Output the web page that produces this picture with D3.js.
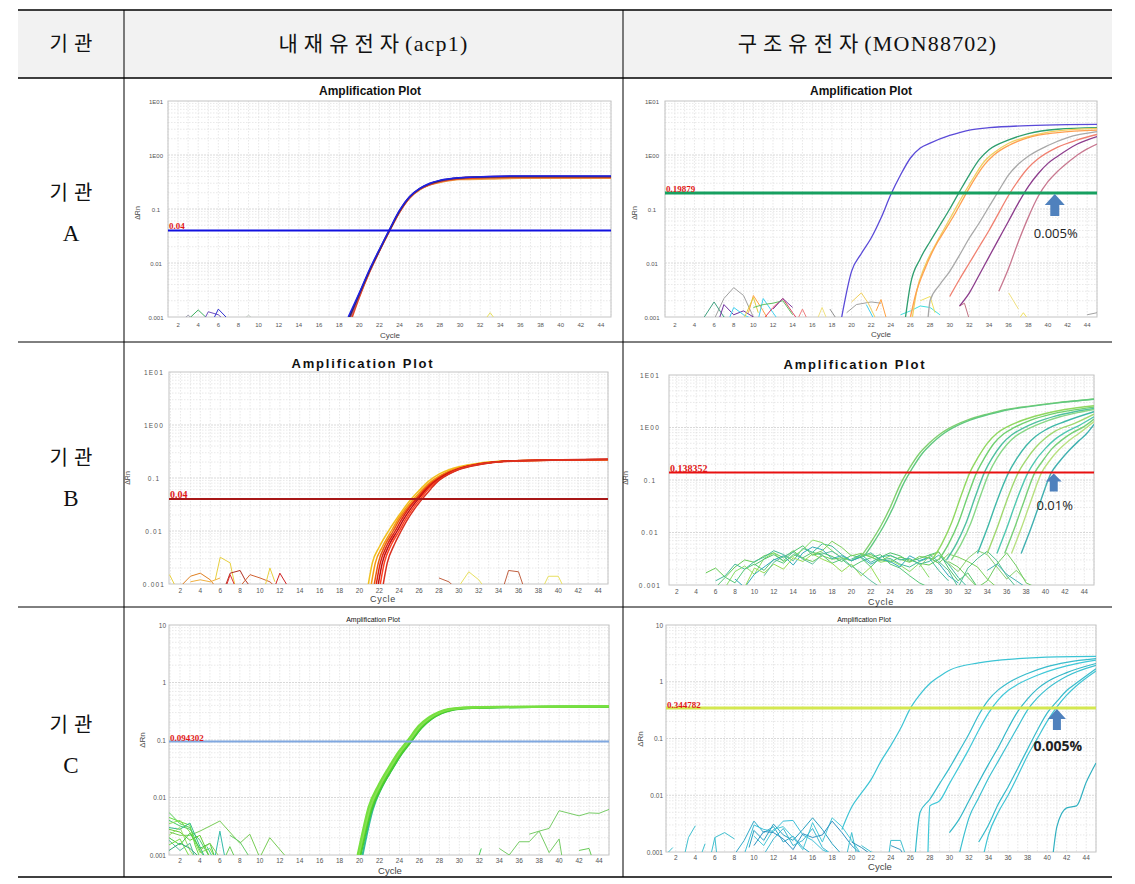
<!DOCTYPE html>
<html><head><meta charset="utf-8">
<script src="https://cdn.jsdelivr.net/npm/d3@7"></script>
<style>body{margin:0;background:#fff}svg{display:block}</style>
</head><body>
<svg id="chart" width="1135" height="884"></svg>
<script>
// ---------------- DATA ----------------
const headerLabels = ["기관", "내재유전자(acp1)", "구조유전자(MON88702)"];
const agencyLabels = ["A", "B", "C"];
const xTickValues = [2,4,6,8,10,12,14,16,18,20,22,24,26,28,30,32,34,36,38,40,42,44];
const yTickValues = [10, 1, 0.1, 0.01, 0.001];
const yTickLabelsAB = ["1E01", "1E00", "0.1", "0.01", "0.001"];
const yTickLabelsC = ["10", "1", "0.1", "0.01", "0.001"];
const thresholds = [0.04, 0.19879, 0.04, 0.138352, 0.094302, 0.344782];
const thresholdLabels = ["0.04", "0.19879", "0.04", "0.138352", "0.094302", "0.344782"];
const lodLabels = ["0.005%", "0.01%", "0.005%"];
const lodCycles = [40.7, 40.85, 41.0];

// Agency A, acp1
const A_acp1_curves = [
  [[19.2,0.001],[20,0.0025],[21,0.0069],[22,0.017],[23,0.04],[24,0.089],[25,0.162],[26,0.23],[27,0.285],[28,0.32],[30,0.36],[33,0.375],[36,0.38],[45,0.38]],
  [[19.2,0.001],[20,0.0024],[21,0.0068],[22,0.017],[23,0.04],[24,0.088],[25,0.16],[26,0.225],[27,0.28],[28,0.31],[30,0.35],[33,0.36],[36,0.37],[45,0.37]],
  [[19.3,0.001],[20,0.0023],[21,0.0066],[22,0.0165],[23,0.039],[24,0.087],[25,0.16],[26,0.23],[27,0.28],[28,0.32],[30,0.36],[33,0.38],[36,0.385],[45,0.385]],
  [[19.1,0.001],[20,0.0026],[21,0.007],[22,0.017],[23,0.04],[24,0.09],[25,0.165],[26,0.235],[27,0.29],[28,0.33],[30,0.38],[33,0.4],[36,0.405],[45,0.4]],
  [[19.0,0.001],[20,0.0027],[21,0.0072],[22,0.0175],[23,0.041],[24,0.092],[25,0.168],[26,0.238],[27,0.295],[28,0.335],[30,0.375],[33,0.395],[36,0.4],[45,0.4]],
  [[18.9,0.001],[20,0.0028],[21,0.0075],[22,0.018],[23,0.042],[24,0.095],[25,0.17],[26,0.24],[27,0.3],[28,0.34],[30,0.38],[33,0.4],[36,0.41],[45,0.41]]
];
const A_acp1_colors = ["#b08040", "#f0a040", "#e04828", "#7a2aa0", "#303030", "#2020e8"];
const A_acp1_noise = [
  [[2.5,0.0009],[3,0.00108],[3.5,0.0009]],
  [[3,0.0009],[4,0.00135],[5,0.0009]],
  [[4.6,0.0009],[5,0.00125],[6,0.0011],[6.5,0.0009]],
  [[5.5,0.0009],[6,0.0014],[7,0.0009]],
  [[8.5,0.0009],[9,0.00108],[9.5,0.0009]],
  [[32.5,0.0009],[33,0.0012],[33.5,0.0009]]
];
const A_acp1_noiseColors = ["#a0a0b0", "#40b060", "#7050c0", "#3030d0", "#c0c8c0", "#e8e060"];

// Agency A, MON88702
const A_mon_curves = [
  [[19,0.001],[20,0.007],[21,0.015],[22,0.029],[23,0.068],[24,0.185],[25,0.43],[26,0.88],[27,1.35],[28,1.66],[30,2.3],[32,2.9],[34,3.2],[38,3.5],[42,3.65],[45,3.7]],
  [[25.5,0.001],[26,0.004],[27,0.012],[28,0.025],[29,0.05],[30,0.1],[31,0.21],[32,0.43],[33,0.82],[34,1.25],[36,1.9],[38,2.5],[41,3.0],[45,3.2]],
  [[26.2,0.001],[26.6,0.0028],[27.5,0.009],[28.5,0.021],[29.5,0.045],[30.5,0.095],[31.5,0.2],[32.5,0.4],[33.5,0.75],[34.5,1.1],[36,1.65],[38,2.2],[41,2.8],[45,3.1]],
  [[26,0.001],[26.5,0.0025],[27.5,0.008],[28.5,0.02],[29.5,0.04],[30.5,0.08],[31.5,0.17],[32.5,0.35],[33.5,0.65],[34.5,1.0],[36,1.5],[38,2.1],[41,2.6],[45,2.9]],
  [[27.8,0.001],[28,0.002],[29,0.004],[30,0.007],[31,0.014],[32,0.029],[33,0.055],[34,0.11],[35,0.22],[36,0.43],[37,0.68],[38,0.95],[40,1.5],[42,2.1],[45,2.7]],
  [[30,0.0024],[31,0.005],[32,0.01],[33,0.02],[34,0.04],[35,0.085],[36,0.18],[37,0.34],[38,0.58],[39,0.85],[41,1.4],[43,1.9],[45,2.4]],
  [[31,0.0016],[32,0.0028],[33,0.006],[34,0.013],[35,0.028],[36,0.06],[37,0.13],[38,0.26],[39,0.45],[40,0.7],[41,0.95],[43,1.6],[45,2.2]],
  [[35,0.003],[36,0.008],[37,0.025],[38,0.07],[39,0.17],[40,0.32],[41,0.5],[42,0.72],[43,1.0],[44,1.3],[45,1.6]]
];
const A_mon_colors = ["#5a4ad8", "#2e9e6e", "#f0d060", "#ffa050", "#a8a8a8", "#f08070", "#8c3c8c", "#c87890"];
const A_mon_noise = [
  [[6,0.0009],[7,0.0022],[8,0.0035],[9,0.0025],[10,0.001],[10.5,0.0009]],
  [[5,0.001],[6,0.0019],[7,0.001],[7.5,0.0009]],
  [[6.5,0.0009],[7,0.0017],[8,0.0011],[9,0.0013],[10,0.001]],
  [[7.5,0.0009],[8,0.0015],[9,0.0011],[10,0.0009]],
  [[9.5,0.0012],[10,0.0025],[11,0.0013],[11.5,0.0009]],
  [[9,0.0009],[10,0.0023],[10.5,0.0012]],
  [[10.5,0.0009],[11,0.0022],[12,0.0012],[12.5,0.0009]],
  [[11,0.0009],[12,0.0015],[13,0.0022],[14,0.0012],[14.5,0.0009]],
  [[10,0.0015],[11,0.0017],[12,0.0018],[13,0.002],[14,0.0011]],
  [[12,0.0014],[13,0.0022],[14,0.0015]],
  [[14.5,0.0009],[15,0.0014],[15.5,0.0009]],
  [[16.5,0.0009],[17,0.0015],[17.5,0.0009]],
  [[17.8,0.0014],[18.5,0.0009]],
  [[19.5,0.0012],[20.5,0.0017],[22,0.0019],[23,0.0018]],
  [[20,0.0019],[21,0.0028],[21.7,0.0018],[22.5,0.0009]],
  [[21.5,0.0017],[22.3,0.0009]],
  [[22.5,0.0013],[23,0.0021],[23.5,0.001]],
  [[25,0.0011],[26,0.0013],[27,0.0016],[28,0.0015],[29,0.0011]],
  [[27,0.002],[28,0.0024],[28.5,0.0012]],
  [[36,0.0028],[37,0.0014]],
  [[37,0.0009],[37.5,0.0012],[38,0.0009]],
  [[31,0.0016],[31.5,0.0018],[32,0.0009]],
  [[44,0.0011],[45,0.0012]]
];
const A_mon_noiseColors = ["#a0a0a0","#40a080","#7030a0","#40d0f0","#ffa040","#e0d040","#40d0f0","#e04060","#60c060","#8040a0","#f08080","#f0e080","#909090","#a0a0a0","#f0d060","#40d0f0","#ffa040","#40e0e0","#f0e060","#f0e080","#f0e060","#c07080","#a0a0a0"];

// Agency B, acp1
const B_acp1_curves = [
  [[20.9,0.001],[21.3,0.0025],[22,0.005],[23,0.0105],[24,0.02],[25,0.036],[26,0.058],[27,0.088],[28,0.118],[29,0.143],[30,0.163],[32,0.19],[34,0.206],[37,0.215],[45,0.222]],
  [[21.2,0.001],[21.6,0.0025],[22.3,0.005],[23.2,0.01],[24,0.018],[25,0.032],[26,0.052],[27,0.08],[28,0.108],[29,0.135],[30,0.157],[32,0.187],[34,0.205],[37,0.215],[45,0.222]],
  [[21.5,0.001],[21.9,0.0025],[22.6,0.0055],[23.4,0.01],[24,0.016],[25,0.029],[26,0.048],[27,0.075],[28,0.103],[29,0.13],[30,0.152],[32,0.184],[34,0.203],[37,0.214],[45,0.223]],
  [[21.7,0.001],[22.1,0.0025],[22.8,0.0055],[23.6,0.01],[24.2,0.016],[25,0.027],[26,0.045],[27,0.071],[28,0.099],[29,0.126],[30,0.15],[32,0.183],[34,0.203],[37,0.215],[45,0.224]],
  [[21.9,0.001],[22.3,0.0025],[23,0.0055],[23.8,0.01],[24.4,0.016],[25.2,0.027],[26,0.042],[27,0.067],[28,0.095],[29,0.123],[30,0.148],[32,0.182],[34,0.202],[37,0.214],[45,0.225]],
  [[22.1,0.001],[22.5,0.0025],[23.2,0.0055],[24,0.01],[24.6,0.016],[25.4,0.027],[26.2,0.042],[27,0.064],[28,0.092],[29,0.12],[30,0.146],[32,0.18],[34,0.2],[37,0.213],[45,0.224]],
  [[22.4,0.001],[22.8,0.0025],[23.5,0.0055],[24.2,0.01],[24.8,0.016],[25.6,0.027],[26.4,0.042],[27.2,0.063],[28,0.09],[29,0.118],[30,0.144],[32,0.178],[34,0.2],[37,0.213],[45,0.224]]
];
const B_acp1_colors = ["#f0c020", "#f89a10", "#e85c10", "#e02010", "#c01010", "#ff4020", "#d83020"];
const B_acp1_noise = [
  [[0.9,0.0015],[1.5,0.0009]],
  [[5.5,0.0012],[6,0.0032],[7,0.0025],[7.5,0.0009]],
  [[2,0.0009],[3,0.0014],[4,0.0016],[5,0.0012],[5.5,0.0009]],
  [[6.5,0.0009],[7,0.0016],[8,0.0018],[8.5,0.0012],[9,0.0009]],
  [[6.6,0.0009],[7,0.0015],[7.5,0.0009]],
  [[8,0.0009],[9,0.0015],[10,0.0013],[11,0.0011],[11.5,0.0009]],
  [[10.5,0.0009],[11,0.002],[11.5,0.0011]],
  [[11.5,0.0009],[12,0.0016],[12.8,0.0009]],
  [[3,0.0011],[4,0.0012],[5,0.0011],[6,0.0013]],
  [[28,0.0013],[29,0.0011],[29.5,0.0009]],
  [[30,0.0009],[31,0.0017],[32,0.0012],[32.5,0.0009]],
  [[34.5,0.0009],[35,0.0018],[36,0.0017],[36.5,0.0009]],
  [[38.5,0.0009],[39,0.0014],[40,0.0014],[40.5,0.0009]]
];
const B_acp1_noiseColors = ["#e8d040","#e8d040","#e08020","#b03020","#e03030","#d06030","#e8d040","#d02020","#f0b040","#c06040","#e8e060","#c06040","#e8e060"];

// Agency B, MON88702
const B_mon_curves = [
  [[21,0.0035],[22,0.0065],[23,0.013],[24,0.03],[25,0.08],[26,0.17],[27,0.32],[28,0.5],[29,0.72],[30,0.95],[32,1.4],[34,1.8],[36,2.2],[38,2.5],[41,2.95],[45,3.5]],
  [[21.3,0.0035],[22.3,0.0065],[23.3,0.013],[24.3,0.03],[25.3,0.08],[26.3,0.17],[27.3,0.32],[28.3,0.5],[29.3,0.72],[30.3,0.95],[32.3,1.4],[34.3,1.8],[36.3,2.2],[38.3,2.5],[41.3,2.95],[45,3.45]],
  [[28.3,0.003],[29.3,0.006],[30.3,0.015],[31.3,0.05],[32.2,0.138],[33,0.26],[34,0.5],[35,0.78],[36,1.02],[38,1.45],[40,1.85],[42,2.2],[45,2.6]],
  [[29,0.003],[30,0.006],[31,0.015],[32,0.05],[32.9,0.138],[33.7,0.26],[34.7,0.5],[35.7,0.76],[36.7,0.98],[38.5,1.38],[40.5,1.78],[42.5,2.1],[45,2.45]],
  [[29.8,0.003],[30.8,0.006],[31.8,0.015],[32.8,0.05],[33.7,0.138],[34.5,0.26],[35.5,0.48],[36.5,0.72],[37.5,0.93],[39,1.25],[41,1.65],[43,2.0],[45,2.3]],
  [[30.3,0.003],[31.3,0.006],[32.3,0.015],[33.3,0.05],[34.2,0.138],[35,0.26],[36,0.47],[37,0.7],[38,0.9],[39.5,1.2],[41.5,1.6],[43.5,1.95],[45,2.2]],
  [[33,0.004],[34,0.012],[35,0.04],[36.2,0.138],[37,0.25],[38,0.45],[39,0.68],[40,0.9],[42,1.3],[45,2.0]],
  [[34,0.004],[35,0.012],[36,0.04],[37.2,0.138],[38,0.24],[39,0.42],[40,0.63],[41,0.85],[43,1.2],[45,1.8]],
  [[35,0.004],[36,0.012],[37,0.04],[38.2,0.138],[39,0.24],[40,0.4],[41,0.6],[42,0.8],[43.5,1.1],[45,1.6]],
  [[35.8,0.004],[36.8,0.012],[37.8,0.04],[38.9,0.138],[39.7,0.23],[40.7,0.4],[41.7,0.58],[42.7,0.78],[44,1.05],[45,1.45]],
  [[36.5,0.004],[37.5,0.012],[38.5,0.04],[39.6,0.138],[40.4,0.23],[41.4,0.38],[42.4,0.56],[43.4,0.76],[45,1.3]],
  [[37.5,0.004],[38.5,0.012],[39.5,0.04],[40.6,0.138],[41.4,0.22],[42.4,0.36],[43.4,0.55],[44.2,0.75],[45,1.15]]
];
const B_mon_colors = ["#80d070","#60c880","#90d860","#70d070","#50c0a0","#88d888","#40b8a8","#a0d870","#50c8b0","#78d078","#b8e080","#40b0b0"];
const B_mon_noise = [
  {start:5, v:[0.0017,0.0021,0.0014,0.0022,0.003,0.0027,0.0036,0.0041,0.0033,0.0045,0.0032,0.0028,0.0036,0.0031,0.0033,0.0029,0.0035,0.0038,0.0031,0.0027,0.0034,0.003,0.0026,0.0024,0.0031]},
  {start:6, v:[0.0012,0.0015,0.0025,0.002,0.0028,0.0034,0.0045,0.0038,0.0029,0.005,0.0042,0.0061,0.0055,0.0038,0.0029,0.0035,0.0041,0.003,0.0032,0.0025,0.0022,0.0028,0.0033,0.0019,0.0012]},
  {start:7, v:[0.0009,0.0018,0.0023,0.0016,0.0032,0.0041,0.0028,0.0035,0.0047,0.0072,0.0064,0.0045,0.0033,0.0029,0.0038,0.0035,0.0027,0.003,0.0024,0.0018,0.0026,0.0014]},
  {start:6, v:[0.0009,0.0014,0.0011,0.002,0.0025,0.0019,0.0031,0.0026,0.0038,0.0033,0.0042,0.0037,0.0026,0.0031,0.0022,0.0028,0.0033,0.0038,0.0025,0.0021,0.0015,0.0011,0.0009]},
  {start:8, v:[0.0013,0.0009,0.0016,0.0022,0.003,0.0036,0.0024,0.0041,0.0053,0.0047,0.0032,0.0036,0.0029,0.0034,0.0025,0.0031,0.0028,0.0022,0.0036,0.0029,0.0034,0.0026,0.0015,0.0011]},
  {start:9, v:[0.0009,0.0021,0.0017,0.0025,0.002,0.0033,0.0028,0.0039,0.0031,0.0026,0.0018,0.0025,0.0015,0.0022,0.0011]},
  {start:10, v:[0.0024,0.0031,0.0038,0.0029,0.0043,0.0056,0.0037,0.0041,0.0035,0.0028,0.0037,0.0033,0.0022,0.0034,0.0041,0.0036,0.0028,0.0032,0.0037,0.0043,0.0021,0.0012,0.0017,0.0009]},
  {start:11, v:[0.0015,0.0027,0.0035,0.0042,0.0031,0.0025,0.0039,0.0044,0.0033,0.0023,0.0017,0.0012,0.0009]},
  {start:16, v:[0.0038,0.0045,0.0068,0.0052,0.0036,0.004,0.0034,0.0029,0.0036,0.0031,0.0027,0.0035,0.0033,0.0026,0.0039,0.0034,0.0028,0.0022,0.0013,0.0009]},
  {start:20, v:[0.0031,0.0038,0.0027,0.0034,0.0037,0.003,0.0032,0.0025,0.0028,0.0037,0.0025,0.0014,0.0009]},
  {start:27, v:[0.0022,0.0035,0.0042,0.0026,0.0018,0.0032,0.0045,0.0038,0.0022,0.0013,0.0019,0.0012]},
  {start:28, v:[0.0038,0.0028,0.0019,0.0009,0.0021,0.0032,0.0044,0.0029,0.0015,0.0009]},
  {start:30, v:[0.0028,0.0022,0.0014,0.0009,0.0012,0.0025,0.0041,0.0023,0.0011,0.0009]},
  {start:34, v:[0.0019,0.0025,0.0016,0.0012,0.0009]}
];
const B_mon_noiseColors = ["#66cc55","#44bb99","#88dd66","#55c877","#33aabb","#99dd55","#4cc46a","#60c0a0","#7ad05a","#40b8a0","#88d070","#50c090","#70cc60","#44b0b0"];

// Agency C, acp1
const C_acp1_curves = [
  [[20.3,0.001],[20.6,0.0018],[21.3,0.006],[22.2,0.0148],[23.2,0.03],[24.2,0.057],[25.2,0.097],[26.2,0.163],[27.2,0.233],[28.2,0.293],[29.2,0.333],[31,0.36],[34,0.372],[40,0.378],[45,0.382]],
  [[20.1,0.001],[20.5,0.002],[21.2,0.006],[22.2,0.015],[23.2,0.03],[24.2,0.057],[25.2,0.096],[26.2,0.162],[27.2,0.232],[28.2,0.292],[29.2,0.33],[31,0.358],[34,0.37],[40,0.377],[45,0.38]],
  [[20.0,0.001],[20.4,0.002],[21.1,0.0062],[22.1,0.0155],[23.1,0.031],[24.1,0.058],[25.1,0.098],[26.1,0.165],[27.1,0.235],[28.1,0.295],[29.1,0.335],[31,0.36],[34,0.372],[40,0.378],[45,0.382]],
  [[19.9,0.001],[20.3,0.002],[21,0.0065],[22,0.016],[23,0.032],[24,0.06],[25,0.1],[26,0.17],[27,0.24],[28,0.3],[29,0.34],[31,0.365],[34,0.375],[40,0.38],[45,0.385]],
  [[19.9,0.001],[20.35,0.0022],[21.05,0.0066],[22.05,0.0162],[23.05,0.0325],[24.05,0.061],[25.05,0.101],[26.05,0.172],[27.05,0.242],[28.05,0.302],[29.05,0.342],[31,0.368],[34,0.376],[40,0.381],[45,0.386]],
  [[19.8,0.001],[20.2,0.0021],[20.9,0.0068],[21.9,0.0165],[22.9,0.033],[23.9,0.062],[24.9,0.103],[25.9,0.175],[26.9,0.245],[27.9,0.305],[28.9,0.345],[31,0.37],[34,0.378],[40,0.382],[45,0.388]]
];
const C_acp1_colors = ["#33bb99", "#44c833", "#55d42a", "#66dd33", "#88e055", "#77e040"];
const C_acp1_noise = [
  [[1,0.0025],[2,0.0022],[3,0.0022],[4,0.0026],[6,0.0039],[8,0.0016],[9,0.0023],[10,0.0009]],
  [[10,0.0009],[11,0.002],[12.7,0.0009]],
  [[0.9,0.0055],[2,0.0035],[3,0.003],[4,0.0012],[4.5,0.0009]],
  [[0.9,0.0045],[2,0.0038],[3,0.0033],[3.5,0.0015],[4,0.0009]],
  [[0.9,0.004],[2,0.0032],[3,0.0028],[4,0.0018],[5,0.0009]],
  [[0.9,0.0035],[2,0.004],[3,0.0025],[4,0.0011],[5,0.0013],[5.5,0.0009]],
  [[0.9,0.003],[2,0.0028],[3,0.0036],[4,0.0014],[4.5,0.0009]],
  [[0.9,0.0028],[2,0.0025],[3,0.0018],[4,0.0022],[5,0.0009]],
  [[0.9,0.0022],[2,0.003],[3,0.0012],[3.5,0.0009]],
  [[0.9,0.002],[2,0.0015],[3,0.0024],[4,0.0013],[5,0.0016],[5.5,0.0009]],
  [[0.9,0.0018],[2,0.0012],[3,0.0016],[3.5,0.0009]],
  [[0.9,0.0015],[2,0.0019],[3,0.0009]],
  [[0.9,0.0012],[2,0.0016],[3,0.0013],[4,0.0009]],
  [[5.5,0.0009],[6,0.0026],[6.5,0.0009]],
  [[6.5,0.0009],[7,0.0014],[7.5,0.0009]],
  [[4.7,0.0014],[5.3,0.0009]],
  [[4,0.0012],[5,0.0016],[6,0.0009]],
  [[7,0.0022],[8,0.0017],[9,0.0009]],
  [[31.9,0.0009],[32.2,0.0013]],
  [[34,0.0013],[35,0.001],[36,0.0017],[37,0.0017],[38,0.0026],[39,0.0011],[40,0.0019],[40.3,0.0009]],
  [[37,0.0023],[38,0.0026],[39,0.0029],[40,0.0059],[42,0.0048],[43,0.0054],[44,0.0053],[45,0.0062]],
  [[42,0.0012],[43,0.0013],[43.3,0.0009]]
];
const C_acp1_noiseColors = ["#77cc55","#77cc55","#55cc55","#66dd44","#44cc66","#88dd55","#33bb88","#66cc33","#99dd66","#44cc44","#55bb99","#77dd44","#33aa77","#33bbaa","#66cc55","#44cc99","#88cc55","#66cc66","#44cc55","#77cc66","#77cc66","#66cc55"];

// Agency C, MON88702
const C_mon_curves = [
  [[19,0.0025],[20,0.0062],[21,0.011],[22,0.019],[23,0.04],[24,0.075],[25,0.15],[26,0.34],[27,0.6],[28,0.93],[29,1.25],[30,1.6],[33,2.15],[37,2.55],[41,2.75],[45,2.8]],
  [[26.5,0.0009],[27,0.005],[28,0.0085],[29,0.016],[30,0.03],[31,0.06],[32,0.12],[33,0.26],[34,0.48],[35,0.72],[36,0.95],[38,1.4],[40,1.85],[42,2.2],[45,2.55]],
  [[27.8,0.0009],[28,0.0065],[29,0.008],[30,0.016],[31,0.032],[32,0.065],[33,0.14],[34,0.28],[35,0.48],[36,0.7],[37,0.9],[39,1.3],[42,1.9],[45,2.4]],
  [[30,0.0022],[31,0.0038],[32,0.008],[33,0.017],[34,0.035],[35,0.07],[36,0.15],[37,0.3],[38,0.5],[39,0.75],[40,1.0],[42,1.45],[45,2.1]],
  [[31,0.0009],[31.5,0.002],[32,0.004],[33,0.009],[34,0.02],[35,0.04],[36,0.08],[37,0.16],[38,0.32],[39,0.52],[40,0.75],[42,1.25],[45,1.95]],
  [[33,0.0015],[34,0.003],[35,0.007],[36,0.014],[37,0.03],[38,0.065],[39,0.14],[40,0.28],[41,0.45],[42,0.7],[43,0.95],[45,1.7]],
  [[33.5,0.0009],[34,0.002],[35,0.005],[36,0.01],[37,0.022],[38,0.05],[39,0.1],[40,0.2],[41,0.36],[42,0.58],[43,0.85],[45,1.55]],
  [[40.6,0.0009],[41,0.0028],[42,0.006],[43,0.0065],[44,0.017],[45,0.037]]
];
const C_mon_colors = ["#3cc4d4","#38bccc","#40c8d8","#34b8c8","#3cc0d0","#38bccc","#40c4d4","#30b0c0"];
const C_mon_noise = [
  [[1,0.0009],[1.7,0.0012]],
  [[2.9,0.0009],[3.3,0.0018],[4,0.0029]],
  [[4.6,0.0009],[5,0.0014]],
  [[5.6,0.0009],[6,0.0018],[7,0.0022],[8,0.0017]],
  [[6,0.0018],[6.2,0.0009]],
  [[8,0.0009],[9,0.0016],[10,0.0035],[11,0.0022],[12,0.0028],[13,0.0015],[14,0.0019],[15,0.0012],[16,0.0009]],
  [[9,0.0009],[10,0.003],[11,0.0025],[12,0.0023],[13,0.0035],[14,0.0036],[15,0.002],[16,0.0016],[17,0.0011],[18,0.0009]],
  [[9.5,0.0012],[10,0.0024],[11,0.0016],[12,0.0031],[13,0.002],[14,0.0016],[15,0.0025],[16,0.004],[17,0.0025],[18,0.0014],[19,0.0009]],
  [[10,0.0019],[11,0.0013],[12,0.0025],[13,0.0028],[14,0.0018],[15,0.0011],[16,0.0033],[17,0.0015],[18,0.004],[19,0.0028],[20,0.0016],[21,0.0009]],
  [[10,0.0013],[11,0.0023],[12,0.0022],[13,0.0017],[14,0.0011],[15,0.0021],[16,0.0018],[17,0.002],[18,0.0035],[19,0.0022],[20,0.0013],[21,0.0009]],
  [[11,0.0009],[12,0.0017],[13,0.0026],[14,0.0013],[15,0.0016],[16,0.0026],[17,0.0012],[18,0.0009]],
  [[19.5,0.0009],[20,0.0022],[20.5,0.0009]],
  [[20,0.0015],[21,0.0012],[22,0.0009]],
  [[21,0.0013],[22,0.001],[23,0.0009]],
  [[23.8,0.0009],[24,0.0016],[25,0.0016],[25.5,0.0009]],
  [[24,0.0013],[25,0.0011],[25.3,0.0009]]
];
const C_mon_noiseColors = ["#40c0d0","#40c0d0","#40c0d0","#40c0d0","#40c0d0","#30a8c8","#40c0d8","#28a0c0","#48c8d8","#3090c0","#40b8d0","#40c0d0","#3090b8","#40c0d0","#40c0d0","#3898c0"];

// ---------------- LAYOUT ----------------
const svg = d3.select("#chart");
const table = {left:18, right:1112, col1:124, col2:623, rows:[10,78,342,607,877]};

svg.append("rect").attr("x", table.left).attr("y", table.rows[0])
  .attr("width", table.right - table.left).attr("height", table.rows[1] - table.rows[0]).attr("fill", "#f2f2f2");

const hdrFont = "'Liberation Serif', 'Noto Sans CJK KR', serif";
const headerX = [(table.left + table.col1) / 2, (table.col1 + table.col2) / 2, (table.col2 + table.right) / 2];
headerLabels.forEach((lab, i) => {
  const t = svg.append("text").attr("x", headerX[i] + (i === 0 ? 3 : 0)).attr("y", 51)
    .attr("text-anchor", "middle").attr("font-family", hdrFont).attr("font-size", 20).attr("fill", "#111");
  const k = lab.indexOf("(");
  if (k < 0) {
    t.attr("letter-spacing", 6).text(lab);
  } else {
    t.append("tspan").attr("font-size", 21).attr("letter-spacing", 6).text(lab.slice(0, k));
    t.append("tspan").attr("font-size", 22).attr("letter-spacing", 1.2).text(lab.slice(k));
  }
});

agencyLabels.forEach((a, i) => {
  const cy = (table.rows[i + 1] + table.rows[i + 2]) / 2;
  svg.append("text").attr("x", headerX[0] + 3).attr("y", cy - 10)
    .attr("text-anchor", "middle").attr("font-family", hdrFont).attr("font-size", 20)
    .attr("letter-spacing", 6).attr("fill", "#111").text(headerLabels[0]);
  svg.append("text").attr("x", headerX[0]).attr("y", cy + 31)
    .attr("text-anchor", "middle").attr("font-family", "'Liberation Serif', serif").attr("font-size", 23)
    .attr("fill", "#111").text(a);
});

// ---------------- PANELS ----------------
function drawPanel(p) {
  const g = svg.append("g");
  const x = d3.scaleLinear().domain(p.xDom).range([p.x0, p.x1]);
  const y = d3.scaleLog().domain([0.001, 10]).range([p.y1, p.y0]);
  const clipId = "clip" + p.id;
  svg.append("clipPath").attr("id", clipId).append("rect")
    .attr("x", p.x0).attr("y", p.y0).attr("width", p.x1 - p.x0).attr("height", p.y1 - p.y0);

  // grid
  const cyc = d3.range(Math.ceil(p.xDom[0]), 46);
  g.append("g").selectAll("line").data(cyc).join("line")
    .attr("x1", d => x(d)).attr("x2", d => x(d)).attr("y1", p.y0).attr("y2", p.y1)
    .attr("stroke", "#dcdcdc").attr("stroke-width", 0.7).attr("stroke-dasharray", "1.5,1.5");
  const hv = [];
  [0.001, 0.01, 0.1, 1].forEach(d => { for (let k = 2; k < 10; k++) hv.push(d * k); });
  g.append("g").selectAll("line").data(hv).join("line")
    .attr("x1", p.x0).attr("x2", p.x1).attr("y1", d => y(d)).attr("y2", d => y(d))
    .attr("stroke", "#e0e0e0").attr("stroke-width", 0.7).attr("stroke-dasharray", "1.5,1.5");
  g.append("g").selectAll("line").data([0.01, 0.1, 1]).join("line")
    .attr("x1", p.x0).attr("x2", p.x1).attr("y1", d => y(d)).attr("y2", d => y(d))
    .attr("stroke", "#c8c8c8").attr("stroke-width", 0.7).attr("stroke-dasharray", "2,1");
  g.append("rect").attr("x", p.x0).attr("y", p.y0).attr("width", p.x1 - p.x0).attr("height", p.y1 - p.y0)
    .attr("fill", "none").attr("stroke", "#c4c4c4").attr("stroke-width", 1);

  // axis labels
  const tf = "'Liberation Sans', Arial, sans-serif";
  g.append("g").selectAll("text").data(yTickValues).join("text")
    .attr("x", p.x0 - p.yLabOff).attr("y", d => y(d) + 2.5)
    .attr("text-anchor", p.yLabAnchor).attr("font-family", tf).attr("font-size", p.tickSize)
    .attr("letter-spacing", p.tickSpacing).attr("fill", "#555").text((d, i) => p.yLabels[i]);
  g.append("g").selectAll("text").data(xTickValues).join("text")
    .attr("x", d => x(d)).attr("y", p.y1 + p.xLabOff)
    .attr("text-anchor", "middle").attr("font-family", tf).attr("font-size", p.tickSize)
    .attr("fill", "#555").text(d => d);
  g.append("text").attr("x", p.cycleX).attr("y", p.cycleY).attr("text-anchor", "middle")
    .attr("font-family", tf).attr("font-size", p.cycleSize).attr("letter-spacing", p.tickSpacing * 0.6)
    .attr("fill", "#444").text("Cycle");
  g.append("text").attr("transform", `translate(${p.drnX},${p.drnY}) rotate(-90)`)
    .attr("text-anchor", "middle").attr("font-family", tf).attr("font-size", p.drnSize)
    .attr("fill", "#444").text("ΔRn");
  g.append("text").attr("x", p.titleX).attr("y", p.titleY).attr("text-anchor", "middle")
    .attr("font-family", tf).attr("font-size", p.titleSize).attr("font-weight", p.titleWeight)
    .attr("letter-spacing", p.titleSpacing).attr("fill", "#111").text("Amplification Plot");

  const line = d3.line().x(d => x(d[0])).y(d => y(d[1])).curve(d3.curveMonotoneX);
  const lineLin = d3.line().x(d => x(d[0])).y(d => y(d[1]));
  const data = g.append("g").attr("clip-path", `url(#${clipId})`);
  data.selectAll("path.noise").data(p.noise).join("path").attr("class", "noise")
    .attr("d", lineLin).attr("fill", "none").attr("stroke", (d, i) => p.noiseColors[i % p.noiseColors.length])
    .attr("stroke-width", p.noiseWidth).attr("stroke-linejoin", "round");
  data.selectAll("path.amp").data(p.curves).join("path").attr("class", "amp")
    .attr("d", line).attr("fill", "none").attr("stroke", (d, i) => p.colors[i])
    .attr("stroke-width", p.curveWidth);

  // threshold
  const ty = y(p.threshold);
  g.append("line").attr("x1", p.x0).attr("x2", p.x1).attr("y1", ty).attr("y2", ty)
    .attr("stroke", p.thrColor).attr("stroke-width", p.thrWidth);
  g.append("text").attr("x", p.x0 + 1).attr("y", ty + p.thrLabDy)
    .attr("font-family", "'Liberation Serif', serif").attr("font-weight", "bold")
    .attr("font-size", p.thrLabSize).attr("fill", "#e01818").text(p.thrLabel);

  // LOD arrow
  if (p.lod) {
    const ax = x(p.lod.cycle), a = p.lod;
    const h = a.head, s = a.shaft;
    g.append("path")
      .attr("d", `M${ax},${ty + 1} L${ax + h},${ty + 1 + a.headH} L${ax + s},${ty + 1 + a.headH} L${ax + s},${ty + 1 + a.len} L${ax - s},${ty + 1 + a.len} L${ax - s},${ty + 1 + a.headH} L${ax - h},${ty + 1 + a.headH} Z`)
      .attr("fill", "#4f81bd");
    g.append("text").attr("x", ax + 1).attr("y", ty + a.textDy).attr("text-anchor", "middle")
      .attr("font-family", "'Open Sans', 'Liberation Sans', sans-serif").attr("font-size", a.size)
      .attr("font-weight", a.weight).attr("fill", "#222").text(a.label);
  }
}

const bNoise = B_mon_noise.map(s => s.v.map((v, i) => [s.start + i, v]));

const panels = [
  {id:"A1", x0:168, x1:611, y0:101, y1:317, xDom:[1,45], yLabels:yTickLabelsAB, yLabOff:12, yLabAnchor:"middle",
   tickSize:6, tickSpacing:0, xLabOff:10, cycleX:390, cycleY:338, cycleSize:8, drnX:140, drnY:213, drnSize:7,
   titleX:370, titleY:95, titleSize:12, titleWeight:"bold", titleSpacing:0,
   curves:A_acp1_curves, colors:A_acp1_colors, noise:A_acp1_noise, noiseColors:A_acp1_noiseColors,
   curveWidth:1.5, noiseWidth:1, threshold:thresholds[0], thrLabel:thresholdLabels[0], thrColor:"#1010e0", thrWidth:2,
   thrLabDy:-1, thrLabSize:9},
  {id:"A2", x0:665, x1:1097, y0:101, y1:317, xDom:[1,45], yLabels:yTickLabelsAB, yLabOff:13, yLabAnchor:"middle",
   tickSize:6, tickSpacing:0, xLabOff:10, cycleX:881, cycleY:337, cycleSize:8, drnX:637, drnY:213, drnSize:7,
   titleX:861, titleY:95, titleSize:12, titleWeight:"bold", titleSpacing:0,
   curves:A_mon_curves, colors:A_mon_colors, noise:A_mon_noise, noiseColors:A_mon_noiseColors,
   curveWidth:1.3, noiseWidth:1, threshold:thresholds[1], thrLabel:thresholdLabels[1], thrColor:"#17a060", thrWidth:3,
   thrLabDy:-1, thrLabSize:9,
   lod:{cycle:lodCycles[0], label:lodLabels[0], head:10, shaft:4.5, headH:11, len:22, textDy:45, size:13, weight:"normal"}},
  {id:"B1", x0:169, x1:608, y0:372, y1:584, xDom:[0.85,45], yLabels:yTickLabelsAB, yLabOff:15, yLabAnchor:"middle",
   tickSize:6.5, tickSpacing:1.2, xLabOff:9, cycleX:383, cycleY:602, cycleSize:9, drnX:130, drnY:478, drnSize:7,
   titleX:363, titleY:368, titleSize:13, titleWeight:"bold", titleSpacing:1.8,
   curves:B_acp1_curves, colors:B_acp1_colors, noise:B_acp1_noise, noiseColors:B_acp1_noiseColors,
   curveWidth:1.5, noiseWidth:1, threshold:thresholds[2], thrLabel:thresholdLabels[2], thrColor:"#a81818", thrWidth:2,
   thrLabDy:-1, thrLabSize:10},
  {id:"B2", x0:669, x1:1094, y0:375, y1:585, xDom:[1.2,45], yLabels:yTickLabelsAB, yLabOff:19, yLabAnchor:"middle",
   tickSize:6.5, tickSpacing:1.2, xLabOff:9, cycleX:881, cycleY:605, cycleSize:9, drnX:628, drnY:478, drnSize:7,
   titleX:855, titleY:369, titleSize:13, titleWeight:"bold", titleSpacing:1.8,
   curves:B_mon_curves, colors:B_mon_colors, noise:bNoise, noiseColors:B_mon_noiseColors,
   curveWidth:1.4, noiseWidth:1, threshold:thresholds[3], thrLabel:thresholdLabels[3], thrColor:"#e81010", thrWidth:2,
   thrLabDy:-1, thrLabSize:10,
   lod:{cycle:lodCycles[1], label:lodLabels[1], head:8, shaft:4, headH:8, len:18, textDy:37, size:13, weight:"normal"}},
  {id:"C1", x0:169, x1:609, y0:625, y1:855, xDom:[0.9,45], yLabels:yTickLabelsC, yLabOff:3, yLabAnchor:"end",
   tickSize:6.5, tickSpacing:0, xLabOff:8, cycleX:390, cycleY:874, cycleSize:9.5, drnX:145, drnY:740, drnSize:8,
   titleX:373, titleY:622, titleSize:7, titleWeight:"normal", titleSpacing:0,
   curves:C_acp1_curves, colors:C_acp1_colors, noise:C_acp1_noise, noiseColors:C_acp1_noiseColors,
   curveWidth:2, noiseWidth:1, threshold:thresholds[4], thrLabel:thresholdLabels[4], thrColor:"#80a8e0", thrWidth:2,
   thrLabDy:0, thrLabSize:9},
  {id:"C2", x0:666, x1:1096, y0:625, y1:852, xDom:[1,45], yLabels:yTickLabelsC, yLabOff:3, yLabAnchor:"end",
   tickSize:6.5, tickSpacing:0, xLabOff:8, cycleX:880, cycleY:870, cycleSize:9.5, drnX:643, drnY:739, drnSize:8,
   titleX:864, titleY:622, titleSize:7, titleWeight:"normal", titleSpacing:0,
   curves:C_mon_curves, colors:C_mon_colors, noise:C_mon_noise, noiseColors:C_mon_noiseColors,
   curveWidth:1.2, noiseWidth:1, threshold:thresholds[5], thrLabel:thresholdLabels[5], thrColor:"#d4e850", thrWidth:3,
   thrLabDy:0, thrLabSize:9,
   lod:{cycle:lodCycles[2], label:lodLabels[2], head:9, shaft:4, headH:10, len:21, textDy:43, size:14, weight:"bold"}}
];
panels.forEach(drawPanel);

// ---------------- TABLE LINES ----------------
const tl = svg.append("g").attr("stroke", "#000");
table.rows.forEach((ry, i) => {
  tl.append("line").attr("x1", table.left).attr("x2", table.right).attr("y1", ry).attr("y2", ry)
    .attr("stroke-width", (i === 0 || i === 1 || i === 4) ? 1.5 : 1);
});
[table.col1, table.col2].forEach(cx => {
  tl.append("line").attr("x1", cx).attr("x2", cx).attr("y1", table.rows[0]).attr("y2", table.rows[4]).attr("stroke-width", 1);
});
</script>
</body></html>
